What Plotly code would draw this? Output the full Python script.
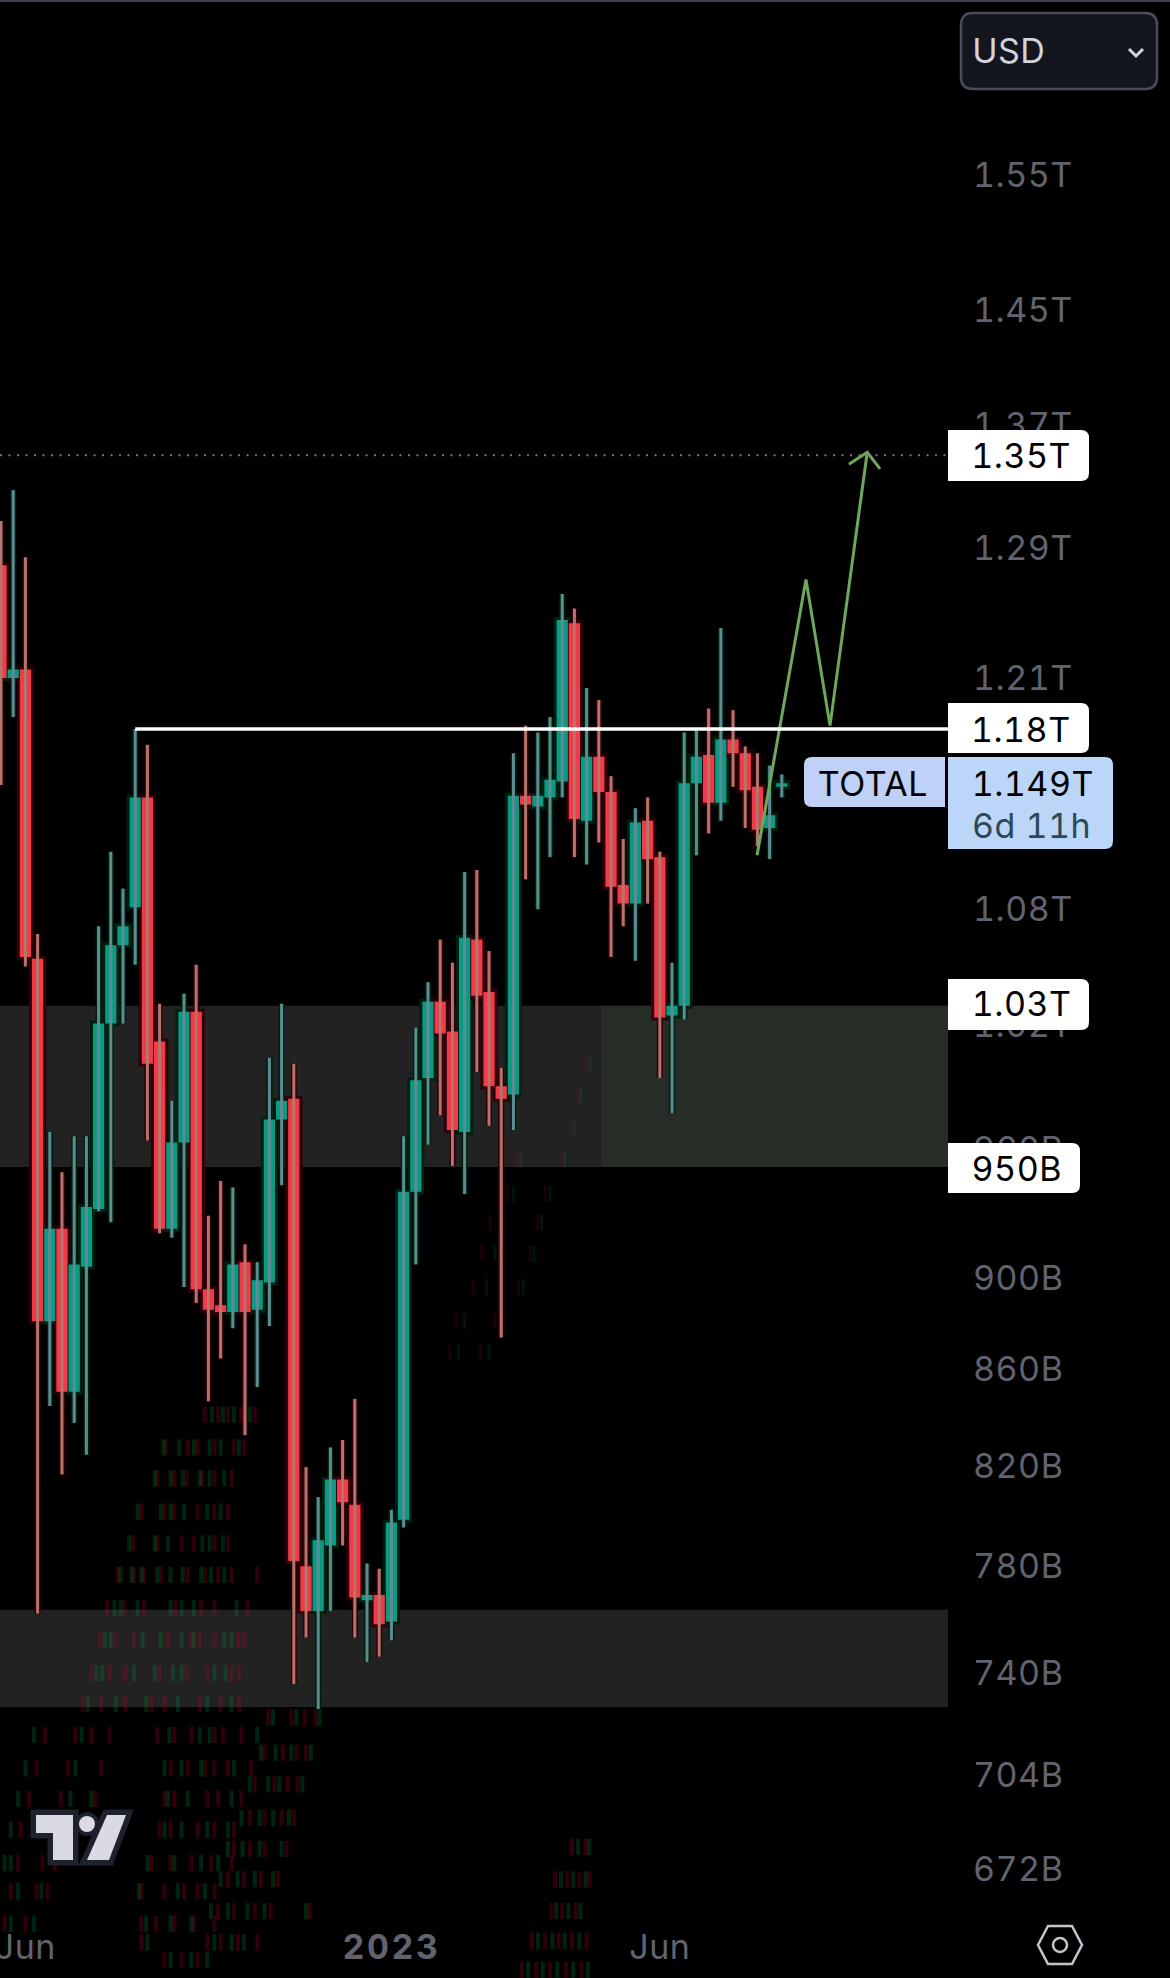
import plotly.graph_objects as go

# Bougies hebdo TOTAL (en milliards USD)
weeks = list(range(65))
opens = [1279, 1210, 1215, 1054, 882, 923, 852, 906, 932, 1021, 1061, 1081, 1141, 1012, 923, 963,
         1027, 896, 889, 886, 908, 887, 899, 974, 984, 782, 765, 790, 816, 806, 769, 771, 761,
         800, 940, 994, 1032, 1017, 968, 1064, 1037, 990, 986, 1142, 1136, 1141, 1150, 1243,
         1128, 1164, 1144, 1093, 1083, 1128, 1108, 1025, 1030, 1149, 1165, 1138, 1174, 1166,
         1147, 1124, 1147]
highs = [1307, 1327, 1284, 1067, 968, 949, 966, 966, 1071, 1111, 1091, 1180, 1171, 1031, 983, 1036,
         1051, 929, 945, 942, 916, 908, 1004, 1031, 1001, 821, 809, 829, 832, 849, 783, 781, 804,
         966, 1019, 1042, 1064, 1052, 1100, 1101, 1058, 999, 1166, 1182, 1178, 1187, 1261, 1252,
         1204, 1197, 1153, 1118, 1135, 1141, 1111, 1052, 1178, 1179, 1192, 1240, 1191, 1170,
         1166, 1159, 1154]
lows = [1148, 1187, 1050, 764, 846, 818, 839, 826, 931, 926, 1021, 1051, 964, 921, 919, 897,
        890, 848, 866, 879, 834, 854, 880, 943, 738, 755, 729, 765, 790, 755, 746, 748, 754,
        797, 907, 962, 976, 952, 939, 997, 971, 875, 969, 1096, 1080, 1108, 1141, 1108,
        1104, 1116, 1055, 1071, 1053, 1083, 994, 977, 1023, 1109, 1121, 1128, 1147, 1124,
        1114, 1107, 1141]
closes = [1210, 1215, 1055, 882, 923, 852, 907, 933, 1021, 1061, 1071, 1141, 1001, 923, 963, 1027,
          896, 887, 886, 907, 886, 900, 974, 983, 784, 765, 792, 816, 807, 770, 771, 760, 799,
          940, 993, 1032, 1016, 969, 1065, 1035, 990, 984, 1142, 1137, 1142, 1151, 1245, 1129,
          1164, 1144, 1092, 1083, 1127, 1107, 1024, 1030, 1149, 1164, 1138, 1174, 1166, 1145,
          1123, 1131, 1149]

# Axes (positions, un peu au-dessus du log pur en bas d'echelle)
price_ticks = [1549, 1450, 1370, 1290, 1210, 1140, 1080, 1020, 960, 901, 861.5, 821.6, 782, 741.8, 705.7, 673.7]
price_labels = ["1.55T", "1.45T", "1.37T", "1.29T", "1.21T", "1.14T", "1.08T", "1.02T", "960B",
                "900B", "860B", "820B", "780B", "740B", "704B", "672B"]
time_ticks = [2, 32, 54]
time_labels = ["Jun", "<b>2023</b>", "Jun"]

# Dessin : niveaux, zones et fleche verte
level_resistance = 1180
level_target = 1350
zone_high = [1030, 951.5]
zone_low = [765.4, 729.7]
zone_split_week = 49.2
path_x = [61.97, 65.98, 67.95, 71.0]
path_y = [1109, 1270, 1182, 1352]
head_x = [69.5, 71.0, 72.05]
head_y = [1344, 1352, 1341]

# Fantomes sombres en bas a gauche de l'image : niveau de la rangee, semaines des traits
ghost_levels = [842.5, 829, 816.5, 803.2, 790.8, 778.7, 766, 754.2, 742, 730.8, 719.7, 708, 697.5,
                687, 675.8, 666.5, 656, 650, 726, 713.5, 702.5, 691, 680.5, 670.5, 660,
                681.2, 670.4, 660.1, 650.5, 641.3, 644.4]
ghost_red = [
    [16.7, 17.8, 18.6, 19.7, 20.8],
    [13.5, 15.3, 16.1, 17.5, 19.1, 19.9],
    [12.8, 14.2, 15.2, 16.5, 17.5, 18.9],
    [11.5, 13.4, 14.2, 16.1, 17.5, 18.6],
    [10.8, 12.8, 14.8, 15.8, 17.5, 18.6],
    [9.6, 10.9, 11.7, 13.1, 15.3, 16.7, 17.8, 18.9, 21.0],
    [8.7, 10.1, 11.7, 14.3, 16.4, 17.5, 20.2],
    [8.1, 9.4, 10.9, 13.7, 15.6, 16.3, 17.5, 19.4, 19.9],
    [7.4, 8.9, 10.2, 13.0, 15.2, 16.9, 18.9, 19.5],
    [6.7, 8.2, 10.2, 12.3, 13.4, 16.3, 18.0, 19.5],
    [3.6, 6.1, 7.4, 8.9, 12.8, 14.2, 15.6, 17.5, 18.2, 19.7],
    [2.9, 5.5, 8.2, 13.9, 15.3, 16.7, 17.5, 18.6, 20.5],
    [2.3, 4.9, 7.7, 13.4, 14.2, 16.9, 17.8, 19.7],
    [1.6, 13.0, 13.9, 16.1, 17.5, 19.1],
    [1.4, 3.4, 4.4, 12.3, 13.9, 15.6, 17.2, 18.9],
    [0.8, 2.9, 3.8, 11.5, 13.4, 15.0, 16.1, 17.5],
    [0.3, 2.0, 11.5, 12.7, 14.2, 15.8, 17.5],
    [11.5, 16.9, 18.0, 19.4, 21.0],
    [21.9, 23.8, 24.9, 25.8],
    [21.6, 23.1, 24.2, 25.0],
    [20.8, 22.4, 23.5, 24.3],
    [20.4, 21.6, 23.0, 24.0],
    [19.1, 20.4, 21.6, 23.4],
    [18.6, 19.9, 21.3, 22.7],
    [17.8, 19.1, 20.8, 22.1, 25.3],
    [46.8, 47.9],
    [45.4, 46.4, 47.4, 48.2],
    [45.1, 46.0, 47.1],
    [43.5, 44.6, 45.7, 46.8, 48.0],
    [42.7, 43.9, 45.0, 46.3, 47.6],
    [13.4, 14.8, 16.1],
]
ghost_green = [
    [17.3, 18.2, 19.1, 20.4],
    [13.3, 14.6, 15.8, 17.1, 18.0, 19.5],
    [12.6, 13.9, 14.9, 16.3, 17.1, 18.3],
    [11.2, 13.1, 13.9, 15.0, 16.9, 18.0],
    [10.5, 12.6, 13.7, 16.5, 17.1, 18.2],
    [9.8, 10.7, 11.5, 12.8, 13.9, 14.9, 16.4, 17.2, 18.3],
    [9.3, 9.8, 11.2, 13.9, 14.8, 15.8, 19.3],
    [8.5, 9.0, 11.6, 13.1, 14.8, 15.8, 18.3, 18.9],
    [7.8, 8.3, 10.9, 12.6, 14.1, 14.8, 17.5, 18.4],
    [7.1, 9.4, 11.9, 14.5, 16.9, 18.9],
    [2.7, 6.6, 13.8, 16.3, 17.1, 21.0],
    [2.0, 6.1, 13.4, 14.8, 16.4, 19.1],
    [1.4, 5.7, 7.4, 13.7, 15.3, 18.9],
    [0.8, 13.4, 14.8, 16.9, 18.6],
    [0.3, 0.8, 12.0, 14.2, 16.4, 17.8],
    [1.4, 3.3, 11.3, 14.5, 16.7],
    [0.8, 2.7, 11.9, 13.9, 15.6],
    [12.0, 17.5, 18.9, 19.9],
    [22.3, 24.2, 26.1],
    [21.3, 22.5, 23.8, 25.4],
    [20.4, 21.9, 22.8, 24.7],
    [19.7, 21.2, 22.3, 23.6],
    [18.6, 19.8, 21.2, 23.0],
    [18.0, 19.4, 20.8, 22.3],
    [17.2, 18.6, 20.2, 21.6, 25.0],
    [47.3, 48.2],
    [45.9, 46.9, 47.9],
    [45.5, 46.5, 47.5],
    [44.0, 45.2, 46.2, 47.4],
    [43.2, 44.4, 45.6, 46.9, 48.1],
    [13.9, 15.6, 16.9],
]

# Fantomes plus discrets le long de la diagonale, au milieu du graphique
faint_levels = [1001.3, 985.7, 970, 955, 938.9, 925.9, 912, 897, 882, 868.5]
faint_red = [[48.0], [47.2], [46.7], [42.3, 45.9], [41.5, 44.6], [40.1, 44.0], [39.4, 43.4],
             [38.7, 42.4], [37.3, 40.5], [36.8, 39.3]]
faint_green = [[48.3], [47.5], [47.0], [42.6, 46.2], [42.0, 45.0], [41.0, 44.3], [40.5, 43.7],
               [39.8, 42.8], [38.0, 41.0], [37.5, 40.0]]

W, H = 1170, 1978
PLOT_RIGHT = 948
BG = "#000000"
RED, TEAL = "#f23b48", "#0c9a85"
RED_WICK, TEAL_WICK = "#b5756a", "#5b8d92"
TICK = "#62636f"
FONT = "Inter"


def px(x):
    return x / W


def py(y):
    return 1 - y / H


def tag_path(x0, y0, x1, y1, r=8, left=False, right=True):
    # rectangle aux coins arrondis, en pixels puis converti en fraction de page
    rl = r if left else 0
    rr = r if right else 0
    return (f"M {px(x0 + rl)} {py(y0)} L {px(x1 - rr)} {py(y0)} "
            f"Q {px(x1)} {py(y0)} {px(x1)} {py(y0 + rr)} L {px(x1)} {py(y1 - rr)} "
            f"Q {px(x1)} {py(y1)} {px(x1 - rr)} {py(y1)} L {px(x0 + rl)} {py(y1)} "
            f"Q {px(x0)} {py(y1)} {px(x0)} {py(y1 - rl)} L {px(x0)} {py(y0 + rl)} "
            f"Q {px(x0)} {py(y0)} {px(x0 + rl)} {py(y0)} Z")


def wick_xy(rising):
    xs, ys = [], []
    for w, o, h, l, c in zip(weeks, opens, highs, lows, closes):
        if (c >= o) == rising:
            xs += [w, w, None]
            ys += [l, h, None]
    return xs, ys


def ghost_xy(levels, rows):
    xs, ys = [], []
    for level, row in zip(levels, rows):
        for w in row:
            xs += [w, w, None]
            ys += [level * 1.004, level / 1.004, None]
    return xs, ys


fig = go.Figure()

# couleurs transparentes pour que les traits restent teintes sur les zones grises
ghosts = [
    (ghost_levels, ghost_red, "rgba(190,0,40,0.25)", 4),
    (ghost_levels, ghost_green, "rgba(0,150,55,0.24)", 4),
    (faint_levels, faint_red, "rgba(190,0,40,0.15)", 3),
    (faint_levels, faint_green, "rgba(0,150,55,0.14)", 3),
]
for levels, rows, color, width in ghosts:
    gx, gy = ghost_xy(levels, rows)
    fig.add_trace(go.Scatter(x=gx, y=gy, mode="lines", line=dict(color=color, width=width), showlegend=False))

# halo sombre autour des bougies
fig.add_trace(go.Candlestick(
    x=weeks, open=opens, high=highs, low=lows, close=closes,
    increasing=dict(line=dict(color="#00200f", width=6), fillcolor="#00200f"),
    decreasing=dict(line=dict(color="#30000a", width=6), fillcolor="#30000a"),
    showlegend=False,
))

up_x, up_y = wick_xy(True)
down_x, down_y = wick_xy(False)
fig.add_trace(go.Scatter(x=up_x, y=up_y, mode="lines", line=dict(color=TEAL_WICK, width=3), showlegend=False))
fig.add_trace(go.Scatter(x=down_x, y=down_y, mode="lines", line=dict(color=RED_WICK, width=3), showlegend=False))

# corps sans meche
fig.add_trace(go.Candlestick(
    x=weeks, open=opens, close=closes,
    high=[max(o, c) for o, c in zip(opens, closes)],
    low=[min(o, c) for o, c in zip(opens, closes)],
    increasing=dict(line=dict(color=TEAL, width=0), fillcolor=TEAL),
    decreasing=dict(line=dict(color=RED, width=0), fillcolor=RED),
    showlegend=False,
))

fig.add_trace(go.Scatter(x=path_x, y=path_y, mode="lines", line=dict(color="#6fa85c", width=3), showlegend=False))
fig.add_trace(go.Scatter(x=head_x, y=head_y, mode="lines", line=dict(color="#6fa85c", width=3), showlegend=False))

# zones grises
fig.add_shape(type="rect", xref="x domain", yref="y", x0=0, x1=1, y0=zone_high[0], y1=zone_high[1],
              fillcolor="#222222", line_width=0, layer="below")
fig.add_shape(type="rect", xref="x", yref="y", x0=zone_split_week, x1=77.62, y0=zone_high[0], y1=zone_high[1],
              fillcolor="#262c26", line_width=0, layer="below")
fig.add_shape(type="rect", xref="x domain", yref="y", x0=0, x1=1, y0=zone_low[0], y1=zone_low[1],
              fillcolor="#222222", line_width=0, layer="below")

# niveaux
fig.add_shape(type="line", xref="x", yref="y", x0=11, x1=77.62, y0=level_resistance, y1=level_resistance,
              line=dict(color="#ffffff", width=3.5))
fig.add_shape(type="line", xref="x domain", yref="y", x0=0, x1=1, y0=level_target, y1=level_target,
              line=dict(color="#7a7a7a", width=2, dash="2px 6.5px"))

# filet en haut
fig.add_shape(type="rect", xref="paper", yref="paper", x0=0, x1=1, y0=py(2), y1=1,
              fillcolor="#3f3f50", line_width=0)

# etiquettes de prix
tags = [
    (948, 430, 1089, 481, "#ffffff", False),
    (948, 703, 1089, 753, "#ffffff", False),
    (948, 979, 1089, 1030, "#ffffff", False),
    (948, 1143, 1080, 1193, "#ffffff", False),
    (948, 757, 1113, 849, "#bbd6f9", False),
]
for x0, y0, x1, y1, fill, left in tags:
    fig.add_shape(type="path", xref="paper", yref="paper", path=tag_path(x0, y0, x1, y1, left=left),
                  fillcolor=fill, line_width=0)
fig.add_shape(type="path", xref="paper", yref="paper", path=tag_path(804, 757, 945, 807, left=True, right=False),
              fillcolor="#bfd1f6", line_width=0)

# bouton USD
fig.add_shape(type="path", xref="paper", yref="paper", path=tag_path(961, 13, 1157, 89, r=12, left=True),
              fillcolor="#14161f", line=dict(color="#4a4c58", width=2.5))
fig.add_shape(type="path", xref="paper", yref="paper",
              path=f"M {px(1129)} {py(49)} L {px(1136)} {py(56)} L {px(1143)} {py(49)}",
              line=dict(color="#d1d4dc", width=3))

# logo TradingView
logo_t = (f"M {px(36)} {py(1815)} L {px(73)} {py(1815)} L {px(73)} {py(1860)} L {px(53)} {py(1860)} "
          f"L {px(53)} {py(1833)} L {px(36)} {py(1833)} Z")
logo_slash = f"M {px(107)} {py(1815)} L {px(126)} {py(1815)} L {px(109)} {py(1860)} L {px(87)} {py(1860)} Z"
for path in (logo_t, logo_slash):
    fig.add_shape(type="path", xref="paper", yref="paper", path=path, fillcolor="#d9dae2",
                  line=dict(color="#1e222d", width=11))
fig.add_shape(type="circle", xref="paper", yref="paper", x0=px(75), x1=px(99), y0=py(1836), y1=py(1812),
              fillcolor="#1e222d", line_width=0)
for path in (logo_t, logo_slash):
    fig.add_shape(type="path", xref="paper", yref="paper", path=path, fillcolor="#d9dae2", line_width=0)
fig.add_shape(type="circle", xref="paper", yref="paper", x0=px(79), x1=px(95), y0=py(1832), y1=py(1816),
              fillcolor="#d9dae2", line_width=0)

# icone reglages
hexagon = (f"M {px(1048)} {py(1926)} L {px(1072)} {py(1926)} L {px(1082)} {py(1945)} L {px(1072)} {py(1964)} "
           f"L {px(1048)} {py(1964)} L {px(1038)} {py(1945)} Z")
fig.add_shape(type="path", xref="paper", yref="paper", path=hexagon, line=dict(color="#c4c5cc", width=2.5))
fig.add_shape(type="circle", xref="paper", yref="paper", x0=px(1053), x1=px(1067), y0=py(1952), y1=py(1938),
              line=dict(color="#c4c5cc", width=2.5))

# textes
labels = [
    ("1.35T", 976, 455, "#000000"),
    ("1.18T", 980, 729, "#000000"),
    ("1.03T", 976, 1004, "#000000"),
    ("950B", 972, 1168, "#000000"),
    ("1.149T", 981, 783, "#000000"),
    ("6d 11h", 980, 825, "#2c4a55"),
    ("TOTAL", 817, 783, "#000000"),
    ("USD", 971, 51, "#d1d4dc"),
]
for text, x, y, color in labels:
    fig.add_annotation(text=text, xref="paper", yref="paper", x=px(x), y=py(y), showarrow=False,
                       xanchor="left", yanchor="middle", font=dict(family=FONT, size=34, color=color))

fig.update_layout(
    width=W, height=H,
    margin=dict(l=0, r=0, t=0, b=0, autoexpand=False),
    paper_bgcolor=BG, plot_bgcolor=BG,
    showlegend=False,
    boxgap=0.08, boxgroupgap=0,
    xaxis=dict(
        domain=[0, PLOT_RIGHT / W], range=[-0.082, 77.62], rangeslider=dict(visible=False),
        tickmode="array", tickvals=time_ticks, ticktext=time_labels,
        showgrid=False, zeroline=False, showline=False, ticks="",
        ticklabelposition="inside", ticklabeloverflow="allow", ticklabelstandoff=9,
        tickfont=dict(family=FONT, size=34, color=TICK),
    ),
    yaxis=dict(
        domain=[0, 1], type="log", range=[2.8053, 3.2275], side="right",
        tickmode="array", tickvals=price_ticks, ticktext=price_labels,
        showgrid=False, zeroline=False, showline=False, ticks="",
        ticklabelstandoff=24, tickfont=dict(family=FONT, size=34, color=TICK),
    ),
)

# page sans marge, chiffres tabulaires comme sur l'application
page_js = """
document.documentElement.style.overflow = 'hidden';
document.body.style.margin = '0';
document.body.style.background = '#000';
var s = document.createElement('style');
s.textContent = 'svg text{font-feature-settings:"tnum" 1;letter-spacing:0.5px} .xtick tspan{letter-spacing:2.5px}';
document.head.appendChild(s);
"""
fig.write_html("out.html", post_script=page_js, config={"displayModeBar": False})
